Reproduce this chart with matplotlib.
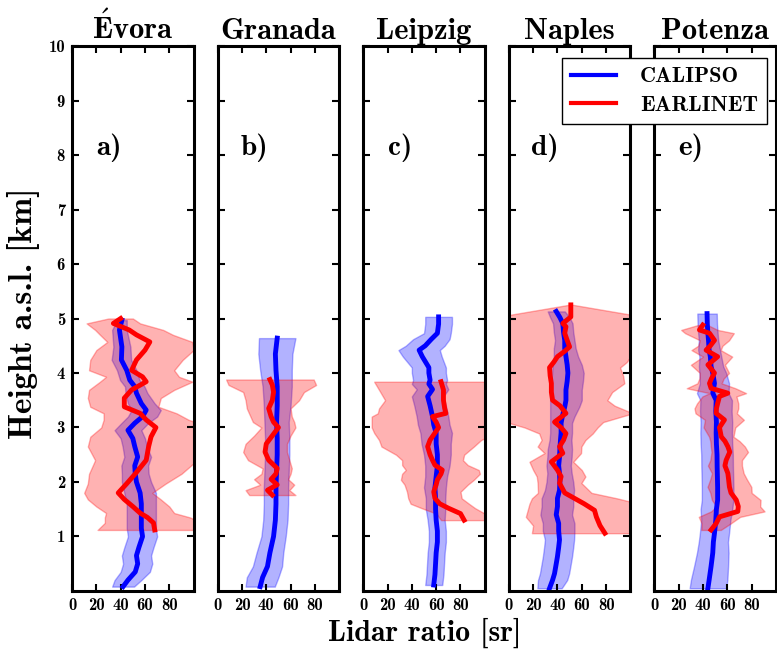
import os
import numpy as np
import matplotlib
matplotlib.use('Agg')
import matplotlib.pyplot as plt
from matplotlib import font_manager
from matplotlib.lines import Line2D

# bold computer modern shipped with matplotlib
cmb_path = os.path.join(matplotlib.get_data_path(), 'fonts', 'ttf', 'cmb10.ttf')
font_manager.fontManager.addfont(cmb_path)
plt.rcParams['font.family'] = ['cmb10', 'DejaVu Serif']
plt.rcParams['mathtext.fontset'] = 'cm'
plt.rcParams['axes.formatter.use_mathtext'] = False

cities = [r'$\mathbf{\acute{E}}$vora', 'Granada', 'Leipzig', 'Naples', 'Potenza']
panel_tags = ['a)', 'b)', 'c)', 'd)', 'e)']

# Evora
evora_cal_h = [0.08, 0.2, 0.35, 0.5, 0.65, 0.8, 1.0, 1.15, 1.3, 1.45, 1.6, 1.8, 2.0, 2.15, 2.3, 2.46, 2.65,
               2.8, 2.95, 3.08, 3.2, 3.32, 3.44, 3.63, 3.75, 3.87, 4.05, 4.24, 4.48, 4.79, 4.97]
evora_cal_lr = [42, 46, 52, 54, 53, 55, 58, 57, 57, 57, 57, 56, 53, 52, 51.6, 54, 51.6,
                50, 46, 51.6, 58, 61, 57, 53, 51.6, 47.5, 45, 40.6, 41, 39, 41]
evora_cal_sd = [9, 11, 12, 12, 12, 12, 12, 12, 12, 12, 12, 13, 12, 11, 11, 11, 10,
                10, 11, 11, 12, 12, 11, 9, 8, 8, 8, 8, 7, 6, 4]
evora_ear_h = [1.12, 1.25, 1.35, 1.43, 1.55, 1.68, 1.8, 1.97, 2.15, 2.4, 2.65, 2.83, 3.0, 3.14, 3.26,
               3.38, 3.54, 3.69, 3.84, 3.93, 4.05, 4.24, 4.42, 4.57, 4.7, 4.79, 4.91, 5.0]
evora_ear_lr = [68, 67, 62, 56, 50, 43, 38, 45, 52, 61, 63, 65, 69, 61, 56,
                43, 43, 49, 61, 58, 49, 53, 60, 64, 53, 47, 34, 40]
evora_ear_sd = [47, 40, 35, 28, 30, 30, 28, 32, 38, 42, 50, 50, 45, 35, 30,
                28, 30, 35, 38, 30, 35, 38, 40, 35, 30, 28, 22, 10]

# Granada
granada_cal_h = [0.08, 0.25, 0.45, 0.7, 1.0, 1.3, 1.6, 1.9, 2.2, 2.5, 2.8, 3.1, 3.4, 3.75, 4.05, 4.35, 4.64]
granada_cal_lr = [35, 37, 41, 43, 46, 47.5, 48, 48, 48.5, 49, 49, 48.5, 49, 49, 48, 47.5, 49]
granada_cal_sd = [12, 13, 12, 11, 10, 10, 10, 10, 10, 10, 10, 10, 11, 12, 13, 14, 15]
granada_ear_h = [1.76, 1.85, 1.95, 2.05, 2.15, 2.25, 2.4, 2.55, 2.7, 2.85, 3.0, 3.1, 3.2, 3.35, 3.5, 3.65, 3.78, 3.88]
granada_ear_lr = [45, 41, 49, 44, 48, 49, 42, 39, 40, 45, 50, 46, 44, 42, 45, 46, 45, 43]
granada_ear_sd = [19, 18, 14, 14, 12, 12, 17, 18, 17, 15, 14, 17, 17, 18, 22, 25, 36, 36]

# Leipzig
leipzig_cal_h = [0.11, 0.3, 0.5, 0.7, 0.9, 1.1, 1.3, 1.5, 1.7, 1.9, 2.1, 2.3, 2.5, 2.7, 2.9, 3.05, 3.2,
                 3.4, 3.57, 3.7, 3.8, 3.87, 4.0, 4.1, 4.3, 4.42, 4.5, 4.62, 4.73, 4.9, 5.03]
leipzig_cal_lr = [58, 59, 59.5, 60, 61, 61, 60, 59.5, 59.5, 59, 60, 61, 61, 60, 60, 58, 57,
                  55, 53, 57, 54, 55, 54, 54, 48.6, 46, 51, 56, 61, 62, 62]
leipzig_cal_sd = [7, 7, 7, 7, 7, 7, 7, 8, 8, 9, 9, 10, 11, 12, 13, 13, 13,
                  13, 13, 13, 14, 14, 14, 14, 16, 17, 16, 15, 11, 11, 11]
leipzig_ear_h = [1.3, 1.42, 1.52, 1.6, 1.7, 1.82, 1.95, 2.04, 2.15, 2.22, 2.31, 2.4, 2.5, 2.65, 2.77, 2.9,
                 3.0, 3.1, 3.2, 3.26, 3.35, 3.5, 3.69, 3.84]
leipzig_ear_lr = [83, 80, 70, 63, 59, 58, 60, 61, 64, 65, 59, 57, 55, 53, 55, 59,
                  62, 60, 57, 68, 67, 66, 66, 64]
leipzig_ear_sd = [19, 20, 22, 24, 22, 22, 26, 30, 32, 30, 27, 25, 28, 38, 42, 50,
                  55, 53, 50, 56, 54, 48, 53, 55]

# Naples
naples_cal_h = [0.05, 0.2, 0.32, 0.5, 0.63, 0.8, 0.94, 1.1, 1.24, 1.4, 1.55, 1.7, 1.85, 2.0, 2.16, 2.3, 2.46,
                2.6, 2.77, 2.9, 3.08, 3.2, 3.38, 3.5, 3.69, 3.85, 4.0, 4.15, 4.3, 4.45, 4.6, 4.75, 4.91, 5.02, 5.13]
naples_cal_lr = [33.5, 36, 37.6, 39, 40, 41, 41.7, 41, 41, 39, 40, 40, 41.7, 42, 41.7, 41, 41.7,
                 42, 42.5, 43, 43, 44, 46, 47, 47, 48, 48.6, 48, 47, 46, 46, 45, 44.4, 42, 39]
naples_cal_sd = [10, 12, 12, 12, 12, 12, 12, 13, 13, 13, 13, 13, 12, 11, 10, 10, 10,
                 10, 9, 9, 9, 10, 12, 13, 13, 13, 13, 12, 10, 9, 8, 8, 8, 8, 7]
naples_ear_h = [1.06, 1.2, 1.36, 1.48, 1.6, 1.7, 1.8, 1.98, 2.1, 2.22, 2.37, 2.53, 2.65, 2.77, 2.89, 3.0,
                3.1, 3.26, 3.4, 3.5, 3.65, 3.81, 3.95, 4.1, 4.2, 4.3, 4.4, 4.48, 4.6, 4.73, 4.85, 4.91,
                5.03, 5.25]
naples_ear_lr = [79, 75, 72, 70.5, 62, 54, 46, 41.7, 43, 40, 35, 44.4, 41.7, 45, 47, 43,
                 37.6, 47, 42, 36, 35, 35, 34, 33.5, 37, 40, 46, 50, 48, 46, 47, 44.4,
                 51, 51]
naples_ear_sd = [60, 55, 58, 55, 45, 35, 22, 18, 20, 20, 18, 15, 18, 18, 22, 30,
                 40, 55, 45, 45, 50, 60, 60, 58, 60, 60, 60, 60, 60, 60, 60, 60,
                 60, 2]

# Potenza
potenza_cal_h = [0.05, 0.2, 0.45, 0.7, 0.9, 1.06, 1.3, 1.5, 1.67, 1.9, 2.1, 2.28, 2.5, 2.7, 2.9, 3.1, 3.3,
                 3.5, 3.63, 3.81, 4.0, 4.12, 4.3, 4.42, 4.6, 4.73, 4.9, 5.09]
potenza_cal_lr = [44, 45, 46.6, 48, 48.5, 49.4, 50.5, 51, 52, 52, 51.8, 51.6, 51.5, 51, 50.8, 51, 50.5,
                  50.8, 48, 49.4, 48, 46.6, 46, 45, 44.5, 44, 43.5, 43.3]
potenza_cal_sd = [15, 15, 14, 13, 12, 12, 12, 13, 13, 13, 13, 13, 13, 13, 13, 13, 13,
                  13, 13, 12, 11, 10, 9, 9, 8, 8, 8, 8]
potenza_ear_h = [1.12, 1.24, 1.36, 1.46, 1.55, 1.67, 1.8, 1.91, 2.05, 2.16, 2.3, 2.4, 2.55, 2.65, 2.75,
                 2.83, 3.0, 3.14, 3.26, 3.35, 3.44, 3.57, 3.63, 3.72, 3.81, 3.9, 4.0, 4.15, 4.3, 4.42,
                 4.5, 4.6, 4.73, 4.79, 4.88]
potenza_ear_lr = [46.6, 50.8, 53.5, 68.6, 69, 67.3, 63, 61.7, 61, 60.4, 58, 59, 62, 60.4, 58,
                  55, 53.5, 57.6, 50.8, 51, 52, 53.5, 60.4, 46.6, 45.3, 47, 49.4, 44, 52, 42.5,
                  46, 49.4, 45.3, 37, 39.8]
potenza_ear_sd = [8, 12, 17, 22, 18, 20, 17, 18, 15, 13, 14, 13, 15, 14, 12,
                  10, 13, 16, 17, 18, 17, 14, 15, 20, 10, 10, 12, 14, 12, 12,
                  10, 12, 20, 15, 4]

calipso = [(evora_cal_h, evora_cal_lr, evora_cal_sd),
           (granada_cal_h, granada_cal_lr, granada_cal_sd),
           (leipzig_cal_h, leipzig_cal_lr, leipzig_cal_sd),
           (naples_cal_h, naples_cal_lr, naples_cal_sd),
           (potenza_cal_h, potenza_cal_lr, potenza_cal_sd)]
earlinet = [(evora_ear_h, evora_ear_lr, evora_ear_sd),
            (granada_ear_h, granada_ear_lr, granada_ear_sd),
            (leipzig_ear_h, leipzig_ear_lr, leipzig_ear_sd),
            (naples_ear_h, naples_ear_lr, naples_ear_sd),
            (potenza_ear_h, potenza_ear_lr, potenza_ear_sd)]

fig, axes = plt.subplots(1, 5, figsize=(7.77, 6.51), dpi=100, sharey=True)
fig.subplots_adjust(left=0.0927, right=0.9987, top=0.9293, bottom=0.0922, wspace=0.1975)

for i, ax in enumerate(axes):
    h, lr, sd = [np.array(a, dtype=float) for a in calipso[i]]
    ax.fill_betweenx(h, lr - sd, lr + sd, color='blue', alpha=0.3, lw=1)
    h2, lr2, sd2 = [np.array(a, dtype=float) for a in earlinet[i]]
    ax.fill_betweenx(h2, lr2 - sd2, lr2 + sd2, color='red', alpha=0.3, lw=1)
    ax.plot(lr, h, color='blue', lw=3.5)
    ax.plot(lr2, h2, color='red', lw=3.5)

    ax.set_xlim(0, 100)
    ax.set_ylim(0, 10)
    ax.set_xticks([0, 20, 40, 60, 80])
    ax.set_yticks(range(1, 11))
    ax.tick_params(direction='in', length=5, width=1.5, top=True, right=True,
                   labelsize=12, pad=5)
    for s in ax.spines.values():
        s.set_linewidth(2.2)
    ax.set_title(cities[i], fontsize=22, pad=5)
    ax.text(0.3, 0.813, panel_tags[i], transform=ax.transAxes,
            fontsize=21, ha='center', va='center')

handles = [Line2D([], [], color='blue', lw=3), Line2D([], [], color='red', lw=3)]
fig.legend(handles, ['CALIPSO', 'EARLINET'],
           loc='upper right', bbox_to_anchor=(767 / 777, 1 - 58 / 651), borderaxespad=0,
           fontsize=16, fancybox=False, framealpha=1, edgecolor='black',
           handlelength=2.0, handletextpad=1.1, borderpad=0.4, labelspacing=0.4)

fig.text(0.546, 0.028, 'Lidar ratio [sr]', fontsize=21.5, ha='center', va='center')
fig.text(0.0296, 0.519, 'Height a.s.l. [km]', fontsize=24, ha='center', va='center',
         rotation=90)

fig.savefig('out.png', dpi=100)
